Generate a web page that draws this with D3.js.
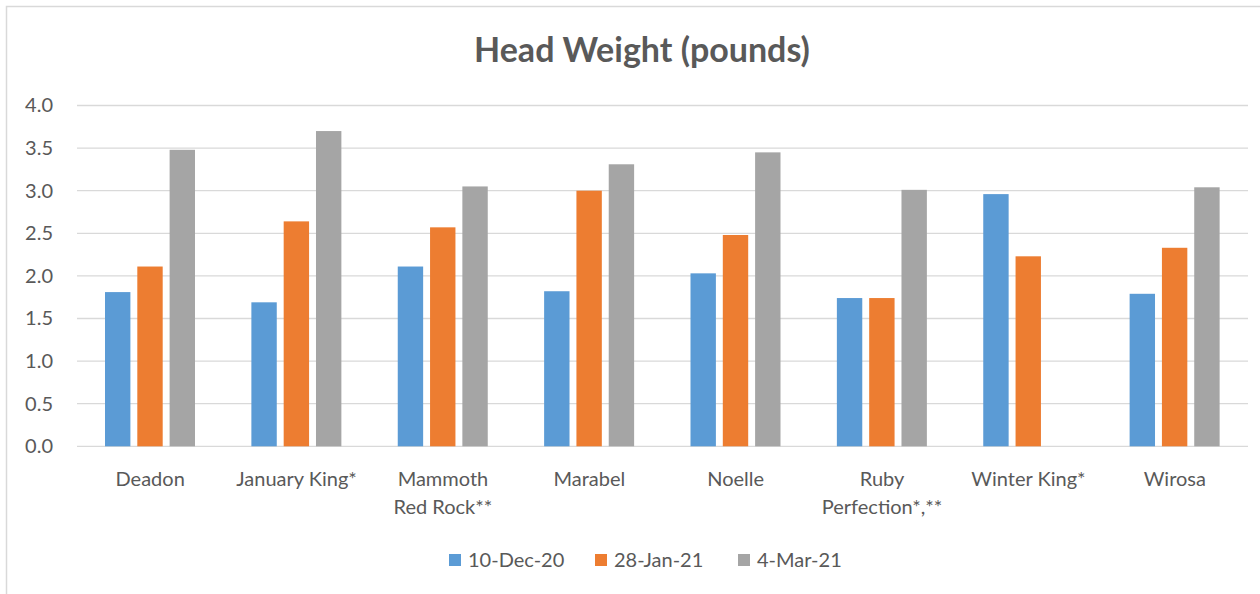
<html>
<head>
<title>Head Weight</title>
<script src="https://d3js.org/d3.v7.min.js"></script>
<style>
  body { margin: 0; background: white; }
  text { font-family: Lato, "Open Sans", sans-serif; fill: #595959; }
</style>
</head>
<body>
<svg id="chart" width="1260" height="594"></svg>
<script>
// varieties on the x axis
var categories = ["Deadon", "January King*", "Mammoth Red Rock**", "Marabel", "Noelle",
                  "Ruby Perfection*,**", "Winter King*", "Wirosa"];
// label lines as shown under each group
var catLines = [["Deadon"], ["January King*"], ["Mammoth", "Red Rock**"], ["Marabel"], ["Noelle"],
                ["Ruby", "Perfection*,**"], ["Winter King*"], ["Wirosa"]];
var seriesNames = ["10-Dec-20", "28-Jan-21", "4-Mar-21"];
var dec20 = [1.81, 1.69, 2.11, 1.82, 2.03, 1.74, 2.96, 1.79];
var jan21 = [2.11, 2.64, 2.57, 3.00, 2.48, 1.74, 2.23, 2.33];
var mar21 = [3.48, 3.70, 3.05, 3.31, 3.45, 3.01, null, 3.04];
var yTicks = [0, 0.5, 1, 1.5, 2, 2.5, 3, 3.5, 4];
var colors = ["#5B9BD5", "#ED7D31", "#A5A5A5"];

var seriesValues = [dec20, jan21, mar21];

var svg = d3.select("#chart");

// chart frame (right and bottom edges fall outside the picture)
svg.append("rect")
    .attr("x", 6.5).attr("y", 6.5)
    .attr("width", 1270).attr("height", 600)
    .attr("fill", "white")
    .attr("stroke", "#D9D9D9")
    .attr("stroke-width", 1.5);

svg.append("text")
    .attr("x", 642).attr("y", 62)
    .attr("text-anchor", "middle")
    .style("font-size", "34px")
    .style("font-weight", "bold")
    .text("Head Weight (pounds)");

var plotLeft = 77, plotRight = 1248, plotTop = 105.5, plotBottom = 446.3;

var x = d3.scaleBand().domain(categories).range([plotLeft, plotRight]).padding(0);
var xInner = d3.scaleBand().domain(seriesNames)
    .range([28, 118]).paddingInner(0.214).paddingOuter(0);
var y = d3.scaleLinear().domain([0, 4]).range([plotBottom, plotTop]);

// gridlines
svg.append("g")
  .selectAll("line")
  .data(yTicks)
  .enter()
  .append("line")
    .attr("x1", plotLeft).attr("x2", plotRight)
    .attr("y1", function (d) { return y(d); })
    .attr("y2", function (d) { return y(d); })
    .attr("stroke", "#D9D9D9")
    .attr("stroke-width", 1.3);

// y axis labels
var yAxis = svg.append("g")
    .attr("transform", "translate(" + plotLeft + ",0)")
    .call(d3.axisLeft(y).tickValues(yTicks).tickFormat(d3.format(".1f")).tickSize(0).tickPadding(24));
yAxis.select(".domain").remove();
yAxis.selectAll("text")
    .style("font-size", "20px")
    .style("font-family", "Lato, sans-serif")
    .attr("fill", "#595959");

// bars
var rows = [];
categories.forEach(function (c, i) {
  seriesNames.forEach(function (s, j) {
    if (seriesValues[j][i] != null) rows.push({cat: c, series: s, idx: j, value: seriesValues[j][i]});
  });
});

svg.append("g")
  .selectAll("rect")
  .data(rows)
  .enter()
  .append("rect")
    .attr("x", function (d) { return x(d.cat) + xInner(d.series); })
    .attr("y", function (d) { return y(d.value); })
    .attr("width", xInner.bandwidth())
    .attr("height", function (d) { return y(0) - y(d.value); })
    .attr("fill", function (d) { return colors[d.idx]; });

// category labels
var labels = svg.append("g")
  .selectAll("text")
  .data(categories)
  .enter()
  .append("text")
    .attr("text-anchor", "middle")
    .style("font-size", "20px")
    .attr("x", function (d) { return x(d) + x.bandwidth() / 2; })
    .attr("y", 486);
labels.selectAll("tspan")
  .data(function (d, i) { return catLines[i]; })
  .enter()
  .append("tspan")
    .attr("x", function () { return d3.select(this.parentNode).attr("x"); })
    .attr("dy", function (d, i) { return i === 0 ? 0 : 28; })
    .text(function (d) { return d; });

// legend
var legendX = [449, 595, 738];
var legend = svg.append("g")
  .selectAll("g")
  .data(seriesNames)
  .enter()
  .append("g")
    .attr("transform", function (d, i) { return "translate(" + legendX[i] + ",554)"; });
legend.append("rect")
    .attr("width", 12).attr("height", 12)
    .attr("fill", function (d, i) { return colors[i]; });
legend.append("text")
    .attr("x", 19).attr("y", 13)
    .style("font-size", "20px")
    .text(function (d) { return d; });
</script>
</body>
</html>
